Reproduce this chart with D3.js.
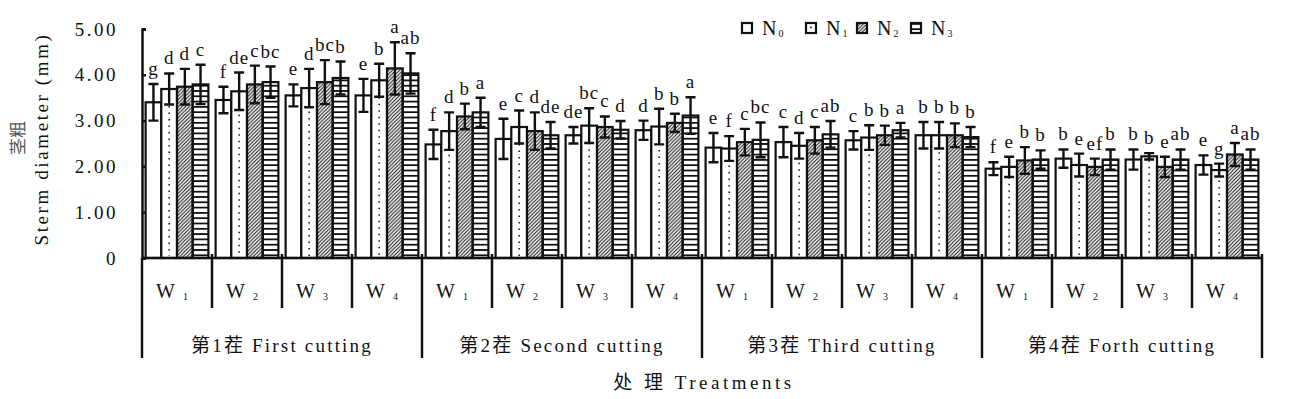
<!DOCTYPE html>
<html lang="zh">
<head>
    <meta charset="UTF-8">
    <title>Stem diameter</title>
    <script src="https://cdn.jsdelivr.net/npm/d3@7"></script>
    <style>
        body { margin: 0; background: #fff; }
        svg text { font-family: "Times New Roman", "Liberation Serif", "DejaVu Serif", "Noto Sans CJK SC", serif; fill: #111; }
    </style>
</head>
<body>
    <div id="chart"></div>

    <script>
        // categories
        const cuttings = ["第1茬 First cutting", "第2茬 Second cutting", "第3茬 Third cutting", "第4茬 Forth cutting"];
        const waters = ["1", "2", "3", "4"];   // W subscripts
        const series = ["0", "1", "2", "3"];   // N subscripts
        const yTicks = [0, 1, 2, 3, 4, 5];

        // means, 16 per series: cutting 1 W1..W4, cutting 2 W1..W4, ...
        const n0Mean = [3.40, 3.45, 3.55, 3.55, 2.48, 2.60, 2.68, 2.79, 2.41, 2.53, 2.57, 2.68, 1.95, 2.17, 2.15, 2.03];
        const n1Mean = [3.69, 3.64, 3.71, 3.88, 2.77, 2.86, 2.89, 2.87, 2.39, 2.45, 2.63, 2.68, 1.99, 2.03, 2.22, 1.92];
        const n2Mean = [3.74, 3.79, 3.84, 4.14, 3.09, 2.77, 2.86, 2.95, 2.53, 2.57, 2.68, 2.68, 2.13, 1.99, 1.99, 2.26];
        const n3Mean = [3.79, 3.84, 3.93, 4.03, 3.18, 2.68, 2.80, 3.11, 2.58, 2.70, 2.79, 2.64, 2.15, 2.15, 2.15, 2.15];

        // standard errors
        const n0Err = [0.40, 0.29, 0.24, 0.36, 0.32, 0.44, 0.18, 0.21, 0.32, 0.33, 0.20, 0.29, 0.14, 0.20, 0.22, 0.21];
        const n1Err = [0.34, 0.41, 0.42, 0.36, 0.41, 0.36, 0.38, 0.39, 0.27, 0.28, 0.27, 0.29, 0.22, 0.25, 0.07, 0.14];
        const n2Err = [0.39, 0.41, 0.48, 0.57, 0.28, 0.41, 0.23, 0.20, 0.29, 0.29, 0.21, 0.26, 0.29, 0.18, 0.22, 0.25];
        const n3Err = [0.43, 0.34, 0.36, 0.44, 0.32, 0.29, 0.19, 0.40, 0.38, 0.29, 0.16, 0.22, 0.20, 0.22, 0.22, 0.22];

        // significance letters
        const n0Sig = ["g", "f", "e", "e", "f", "e", "de", "d", "e", "c", "c", "b", "f", "b", "b", "e"];
        const n1Sig = ["d", "de", "d", "b", "d", "c", "bc", "b", "f", "d", "b", "b", "e", "e", "b", "g"];
        const n2Sig = ["d", "c", "bc", "a", "b", "d", "c", "b", "c", "c", "b", "b", "b", "ef", "e", "a"];
        const n3Sig = ["c", "bc", "b", "ab", "a", "de", "d", "a", "bc", "ab", "a", "b", "b", "b", "ab", "ab"];

        const means = [n0Mean, n1Mean, n2Mean, n3Mean];
        const errs = [n0Err, n1Err, n2Err, n3Err];
        const sigs = [n0Sig, n1Sig, n2Sig, n3Sig];

        const data = [];
        d3.range(16).forEach(g => {
            series.forEach((s, k) => {
                data.push({g, s, k, v: means[k][g], e: errs[k][g], sig: sigs[k][g]});
            });
        });

        const width = 1308;
        const height = 399;
        const marginLeft = 142, plotRight = 1262, plotTop = 29, plotBottom = 258;

        const svg = d3.select("#chart").append("svg")
            .attr("width", width)
            .attr("height", height);

        const defs = svg.append("defs");
        const hatch = defs.append("pattern")
            .attr("id", "hatch")
            .attr("patternUnits", "userSpaceOnUse")
            .attr("width", 3.6).attr("height", 3.6);
        hatch.append("path")
            .attr("d", "M-1,1 l2,-2 M0,3.6 l3.6,-3.6 M2.6,4.6 l2,-2")
            .attr("stroke", "#111").attr("stroke-width", 1.1);
        const stripes = defs.append("pattern")
            .attr("id", "stripes")
            .attr("patternUnits", "userSpaceOnUse")
            .attr("width", 10).attr("height", 5.3);
        stripes.append("rect")
            .attr("width", 10).attr("height", 1.8).attr("fill", "#111");

        const fills = ["#fff", "#fff", "url(#hatch)", "url(#stripes)"];

        const x0 = d3.scaleBand().domain(d3.range(16)).range([marginLeft, plotRight]);
        const x1 = d3.scaleBand().domain(series).range([0, x0.bandwidth()]).paddingOuter(0.23);
        const y = d3.scaleLinear().domain([0, 5]).range([plotBottom, plotTop]);

        // y axis
        svg.append("g")
            .attr("transform", `translate(${marginLeft},0)`)
            .call(d3.axisLeft(y).tickValues(yTicks)
                .tickSizeInner(-4).tickSizeOuter(-4).tickPadding(24)
                .tickFormat(d => d === 0 ? "0" : d3.format(".2f")(d)))
            .call(g => g.attr("font-family", null))
            .call(g => g.selectAll("path, line").attr("stroke", "#111").attr("stroke-width", 2.5))
            .call(g => g.selectAll("text")
                .attr("font-size", 19)
                .attr("letter-spacing", 2.5)
                .attr("fill", "#111"));

        // bars
        const bar = svg.append("g")
            .selectAll("g")
            .data(data)
            .join("g")
            .attr("transform", d => `translate(${x0(d.g) + x1(d.s)},0)`);

        bar.append("rect")
            .attr("y", d => y(d.v))
            .attr("width", x1.bandwidth())
            .attr("height", d => y(0) - y(d.v))
            .attr("fill", d => fills[d.k])
            .attr("stroke", "#111")
            .attr("stroke-width", 2.2);

        bar.filter(d => d.k === 1).append("line")
            .attr("x1", x1.bandwidth() / 2).attr("x2", x1.bandwidth() / 2)
            .attr("y1", d => y(d.v) + 4).attr("y2", y(0) - 2)
            .attr("stroke", "#111")
            .attr("stroke-width", 1.5)
            .attr("stroke-dasharray", "1.5,5");

        // error bars
        const cx = x1.bandwidth() / 2;
        bar.append("path")
            .attr("d", d => {
                const hi = y(d.v + d.e), lo = y(d.v - d.e);
                return `M${cx},${hi}V${lo}M${cx - 5},${hi}H${cx + 5}M${cx - 5},${lo}H${cx + 5}`;
            })
            .attr("fill", "none")
            .attr("stroke", "#111")
            .attr("stroke-width", 2.4);

        bar.append("text")
            .attr("x", cx)
            .attr("y", d => y(d.v + d.e) - 9)
            .attr("text-anchor", "middle")
            .attr("font-size", 19)
            .attr("letter-spacing", 1)
            .text(d => d.sig);

        // category axis
        const xa = svg.append("g")
            .attr("stroke", "#111")
            .attr("stroke-width", 2.5);
        xa.append("line")
            .attr("x1", marginLeft).attr("x2", plotRight)
            .attr("y1", plotBottom).attr("y2", plotBottom);
        xa.selectAll(".div")
            .data(d3.range(17))
            .join("line")
            .attr("x1", i => i === 16 ? plotRight : x0(i))
            .attr("x2", i => i === 16 ? plotRight : x0(i))
            .attr("y1", i => i === 0 ? plotBottom : plotBottom - 4)
            .attr("y2", i => i % 4 === 0 ? 358 : 308);

        svg.append("g")
            .selectAll("text")
            .data(d3.range(16))
            .join("text")
            .attr("x", i => x0(i) + x0.bandwidth() / 2 - 5)
            .attr("y", 298)
            .attr("text-anchor", "middle")
            .attr("font-size", 20)
            .call(t => t.append("tspan").text("W"))
            .call(t => t.append("tspan")
                .attr("dx", 8).attr("dy", 2)
                .attr("font-size", 10)
                .text(i => waters[i % 4]));

        svg.append("g")
            .selectAll("text")
            .data(cuttings)
            .join("text")
            .attr("x", (d, i) => x0(i * 4) + x0.bandwidth() * 2)
            .attr("y", 352)
            .attr("text-anchor", "middle")
            .attr("font-size", 19)
            .attr("letter-spacing", 2.2)
            .text(d => d);

        svg.append("text")
            .attr("x", 704)
            .attr("y", 389)
            .attr("text-anchor", "middle")
            .attr("font-size", 19)
            .attr("letter-spacing", 3.5)
            .text("处 理 Treatments");

        // y title
        svg.append("text")
            .attr("transform", "translate(24,138) rotate(-90)")
            .attr("text-anchor", "middle")
            .style("font-family", "'Noto Sans CJK SC'")
            .attr("font-size", 17)
            .style("fill", "#555")
            .text("茎粗");
        svg.append("text")
            .attr("transform", "translate(48,139) rotate(-90)")
            .attr("text-anchor", "middle")
            .attr("font-size", 19)
            .attr("letter-spacing", 2.6)
            .text("Sterm diameter (mm)");

        // legend
        const legendX = [742, 806, 857, 911];
        const legend = svg.append("g")
            .selectAll("g")
            .data(series)
            .join("g")
            .attr("transform", (d, i) => `translate(${legendX[i]},23)`);
        legend.append("rect")
            .attr("width", 10).attr("height", 10)
            .attr("fill", (d, i) => fills[i])
            .attr("stroke", "#111")
            .attr("stroke-width", 2.2);
        legend.filter((d, i) => i === 1).append("rect")
            .attr("x", 4.2).attr("y", 3.5).attr("width", 1.6).attr("height", 1.8)
            .attr("fill", "#111");
        legend.append("text")
            .attr("x", 20)
            .attr("y", 12)
            .attr("font-size", 20)
            .call(t => t.append("tspan").text("N"))
            .call(t => t.append("tspan")
                .attr("dx", 2).attr("dy", 2)
                .attr("font-size", 10)
                .text(d => d));
    </script>
</body>
</html>
